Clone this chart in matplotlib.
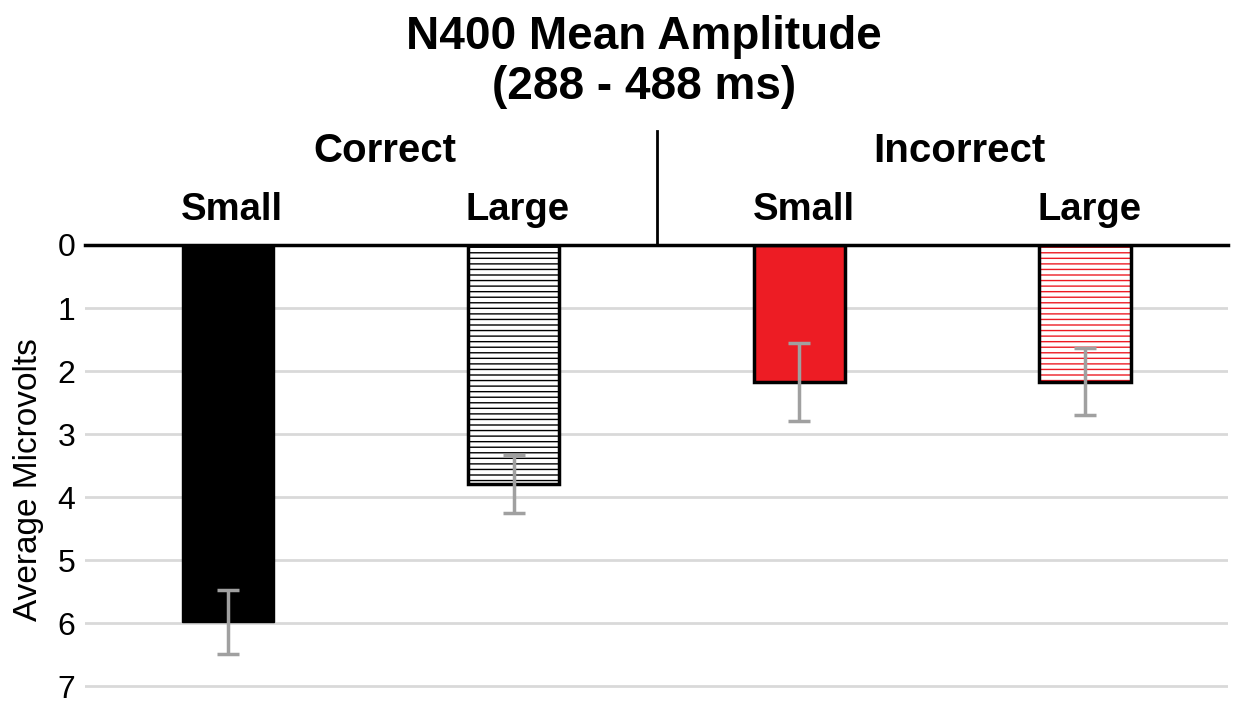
import matplotlib
matplotlib.use("Agg")
import matplotlib.pyplot as plt
import matplotlib.transforms as mtransforms

plt.rcParams['font.family'] = ['Liberation Sans', 'DejaVu Sans']
plt.rcParams['hatch.linewidth'] = 1.0

groups = ["Correct", "Incorrect"]
sizes = ["Small", "Large", "Small", "Large"]
means = [5.98, 3.79, 2.17, 2.17]
errors = [0.51, 0.46, 0.62, 0.53]

red = "#ED1C24"
gray = "#A0A0A0"

fig = plt.figure(figsize=(12.33, 7.06), dpi=100)
ax = fig.add_axes([0.069, 0.025, 0.927, 0.628])

x = list(range(len(means)))
w = 0.32

ax.grid(axis="y", color="#D9D9D9", linewidth=2)
ax.set_axisbelow(True)

# Correct / Small: solid black
ax.bar(x[0], means[0], w, color="black", edgecolor="black", linewidth=1, zorder=2)
# Correct / Large: black hatch on white
ax.bar(x[1], means[1], w, color="white", edgecolor="black", hatch="---", linewidth=0, zorder=2)
ax.bar(x[1], means[1], w, fill=False, edgecolor="black", linewidth=2.5, zorder=3)
# Incorrect / Small: solid red
ax.bar(x[2], means[2], w, color=red, edgecolor="black", linewidth=2.5, zorder=2)
# Incorrect / Large: red hatch on white
ax.bar(x[3], means[3], w, color="white", edgecolor=red, hatch="---", linewidth=0, zorder=2)
ax.bar(x[3], means[3], w, fill=False, edgecolor="black", linewidth=2.5, zorder=3)

ax.errorbar(x, means, yerr=errors, fmt="none", ecolor=gray, elinewidth=2.5,
            capsize=8, capthick=2.5, zorder=4)

ax.set_xlim(-0.5, 3.5)
ax.set_ylim(7.03, 0)
ax.set_yticks(range(0, 8))
ax.set_xticks([])
ax.tick_params(axis="y", length=0, labelsize=23, pad=7)
ax.set_ylabel("Average Microvolts", fontsize=24)
ax.yaxis.set_label_coords(-0.036, 0.47)

for s in ["left", "right", "bottom"]:
    ax.spines[s].set_visible(False)
ax.spines["top"].set_linewidth(2.5)
ax.spines["top"].set_color("black")
ax.spines["top"].set_zorder(5)

trans = mtransforms.blended_transform_factory(ax.transData, ax.transAxes)
for xi, lab in zip(x, sizes):
    ax.text(xi + 0.015, 1.079, lab, transform=trans, ha="center", va="center",
            fontsize=27.5, fontweight="bold")
ax.text(0.55, 1.212, groups[0], transform=trans, ha="center", va="center",
        fontsize=29, fontweight="bold")
ax.text(2.56, 1.212, groups[1], transform=trans, ha="center", va="center",
        fontsize=29, fontweight="bold")
ax.plot([1.5, 1.5], [1.0, 1.258], transform=trans, color="black",
        linewidth=2, clip_on=False)

fig.text(0.522, 0.948, "N400 Mean Amplitude", ha="center", va="center",
         fontsize=33, fontweight="bold")
fig.text(0.522, 0.877, "(288 - 488 ms)", ha="center", va="center",
         fontsize=33, fontweight="bold")

fig.savefig("out.png", dpi=100)
